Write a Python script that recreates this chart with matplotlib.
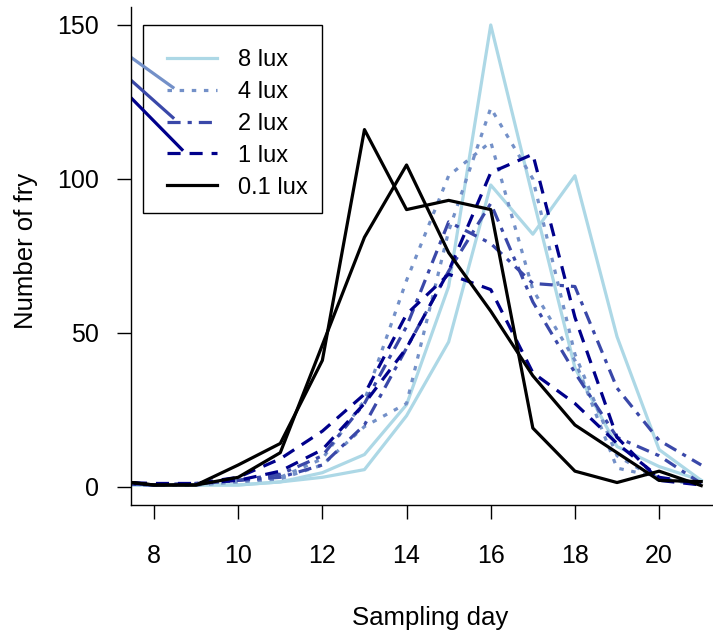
import numpy as np
import matplotlib.pyplot as plt
from matplotlib.patches import Rectangle

plt.rcParams['font.family'] = ['Liberation Sans', 'DejaVu Sans']

# sampling days and fry counts (two replicates per light level)
days = np.arange(7, 22)
fry_8lux_a = [0.5, 0.5, 0.5, 0.5, 1.5, 4.5, 10.4, 26.6, 65, 150, 94, 38.6, 13, 6.5, 2]
fry_8lux_b = [0.5, 0.5, 0.5, 0.5, 1.5, 3, 5.5, 23, 47, 98, 82, 101, 48.7, 12, 2]
fry_4lux_a = [1, 0.5, 0.5, 1.5, 2.5, 7, 19.5, 27, 83, 123, 100, 43, 10, 2, 1]
fry_4lux_b = [1, 0.5, 0.5, 2, 3, 9, 28, 67, 101, 112, 64, 41, 6, 3, 0.5]
fry_2lux_a = [1, 0.5, 1, 2, 4, 10, 27, 52, 86, 79, 66, 65, 32, 15, 7]
fry_2lux_b = [1, 0.5, 1, 2, 3, 7, 20, 45, 70, 92, 60, 37, 16, 10, 1]
fry_1lux_a = [1.5, 0.5, 1, 2, 5, 12, 27, 45, 70, 102, 108, 55, 16, 2, 0.5]
fry_1lux_b = [1.5, 1, 1, 3, 9, 18, 30, 56, 69, 64, 37, 27, 14, 3, 1]
fry_01lux_a = [2, 0.5, 0.5, 7, 14, 41, 116, 90, 93, 90, 19, 5, 1.3, 5, 0.3]
fry_01lux_b = [2, 0.5, 0.5, 3, 11, 46, 81, 104.5, 76, 57, 36, 20, 11, 2, 1.6]

labels = ['8 lux', '4 lux', '2 lux', '1 lux', '0.1 lux']
colors = ['#ADD8E6', '#7390C8', '#3A48A9', '#00008B', '#000000']
styles = ['-', (0, (1.4, 2.4)), (0, (4.1, 2.2, 1.3, 2.2)), (0, (4.1, 2.8)), '-']
series = [(fry_8lux_a, fry_8lux_b), (fry_4lux_a, fry_4lux_b), (fry_2lux_a, fry_2lux_b),
          (fry_1lux_a, fry_1lux_b), (fry_01lux_a, fry_01lux_b)]

# stray segments running in from the left edge (4, 2 and 1 lux colours)
stray_x = [(7.40, 8.45), (7.40, 8.45), (7.40, 8.665)]
stray_y = [(140.0, 129.7), (132.7, 119.9), (127.1, 109.5)]

fig = plt.figure(figsize=(7.13, 6.37), dpi=100)
ax = fig.add_axes([131 / 713, 132 / 637, 582 / 713, 498.5 / 637])

handles = []
for (a, b), lab, col, ls in zip(series, labels, colors, styles):
    h, = ax.plot(days, a, color=col, ls=ls, lw=2.3, label=lab)
    ax.plot(days, b, color=col, ls=ls, lw=2.3)
    handles.append(h)

for xs, ys, col in zip(stray_x, stray_y, colors[1:4]):
    ax.plot(xs, ys, color=col, lw=2.3)

ax.set_xlim(7.454, 21.28)
ax.set_ylim(-6, 156)
ax.set_xticks([8, 10, 12, 14, 16, 18, 20])
ax.set_yticks([0, 50, 100, 150])
ax.spines['top'].set_visible(False)
ax.spines['right'].set_visible(False)
for s in ['left', 'bottom']:
    ax.spines[s].set_linewidth(1.0)
ax.tick_params(axis='both', length=10, width=1.0, labelsize=18, direction='out')
ax.tick_params(axis='x', pad=18)
ax.tick_params(axis='y', pad=13)

ax.set_xlabel('Sampling day', fontsize=18.5)
ax.xaxis.set_label_coords(0.514, -0.2026)
ax.set_ylabel('Number of fry', fontsize=18.5)
ax.yaxis.set_label_coords(-0.16, 0.5095)

# legend with an R-style square box
ax.legend(handles=handles, loc='upper left', bbox_to_anchor=(0.0619, 0.9148),
          frameon=False, fontsize=17, borderpad=0, borderaxespad=0,
          handlelength=2.1, handletextpad=0.9, labelspacing=0.42)
ax.add_patch(Rectangle((0.0206, 0.5858), 0.3076, 0.3771, transform=ax.transAxes,
                       fill=False, edgecolor='black', lw=1.0, clip_on=False))

fig.savefig('out.png', dpi=100)
